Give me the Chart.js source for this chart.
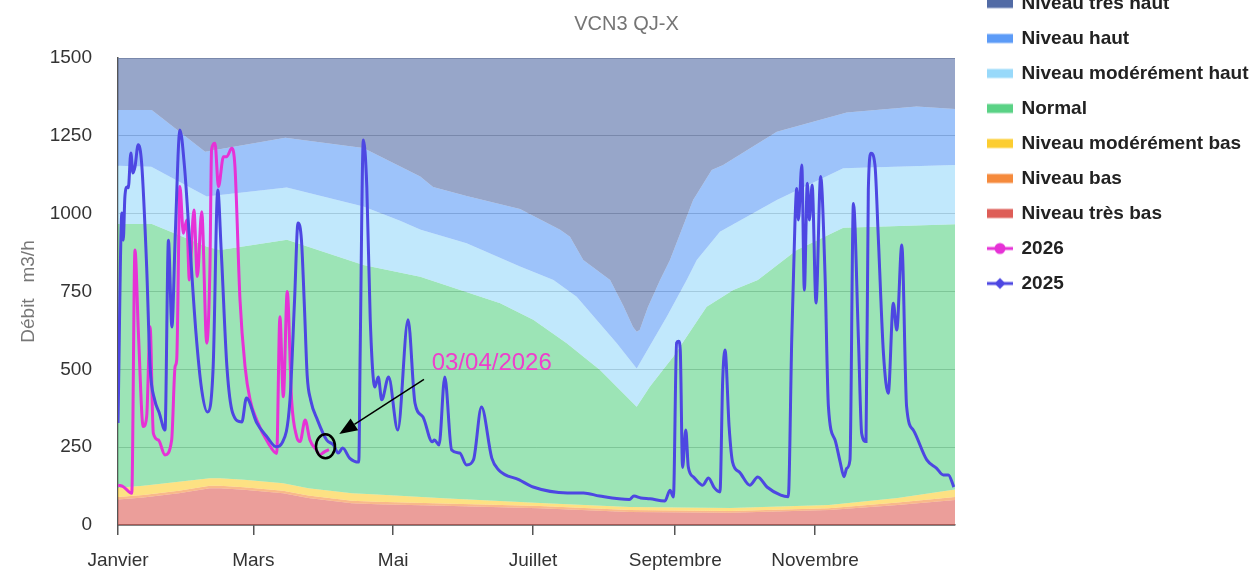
<!DOCTYPE html>
<html><head><meta charset="utf-8">
<script src="https://cdn.jsdelivr.net/npm/chart.js@4.4.1/dist/chart.umd.min.js"></script>
<style>
html,body{margin:0;padding:0;background:#fff;overflow:hidden}
#wrap{position:relative;width:1253px;height:574px;overflow:hidden;background:#fff}
#c{position:absolute;left:0;top:-22px;width:1253px;height:596px}
</style>
</head><body><div id="wrap"><canvas id="c" width="1253" height="596"></canvas></div>
<script>
// ---- axis ----
const monthTicks = [0, 59, 120, 181, 243, 304];
const monthLabels = ['Janvier', 'Mars', 'Mai', 'Juillet', 'Septembre', 'Novembre'];
const subtitleText = 'VCN3 QJ-X';
const yTitle = 'Débit   m3/h';
const noteLabel = '03/04/2026';

// ---- series 2025 (day of year, m3/h) ----
const days2025 = [0,1.7,2.3,3,4,4.5,5.6,6.5,7.4,8.8,10.3,12.5,14,16,18,20.5,22,23.5,25,27,29,31,34,36.5,39,41.5,43.5,45,47.5,50,54,56,60.5,65,69,71.5,75,77,78.5,80,81.3,82.5,84,87,91,94,96,98,101,105,105.6,107,108.5,110,112,113.5,115,118,122,126.5,129.5,133,137,138,140,142.5,145.5,149,152,155,158.5,163,166,175,181,196,203,210,223,225,228,232,238.5,240.7,242.2,243.6,244.5,245.2,246.2,247.6,248.7,251,255,257.5,260,262.5,263.7,264.7,266.5,268,271,275.5,279,283,289,292.3,293.8,295.2,296,296.7,298.2,299.3,300.6,301.5,302.7,304.4,306.4,308.3,309.8,312.7,314.9,316.6,317.8,319.2,320.7,322.9,324.3,326.2,327.2,328.4,330.1,331.6,333.8,335.9,338.1,339.6,341.8,343.9,346.8,352.7,357,359.9,362.1,364.5];
const flow2025 = [328,1002,915,1054,1086,1083,1195,1131,1150,1221,1163,829,508,402,360,305,915,636,938,1269,1150,938,617,434,363,508,1076,883,508,360,331,408,328,283,251,263,402,723,970,915,700,480,402,337,273,257,231,247,215,202,552,1237,1086,659,443,475,402,475,305,659,392,347,267,273,257,475,241,231,193,209,379,215,177,145,122,103,103,93,82,93,87,84,77,112,90,585,590,560,185,305,186,154,128,151,120,106,466,562,315,202,170,128,154,122,96,91,594,970,1081,980,1156,755,1098,980,1092,713,1119,809,380,273,203,155,182,209,1033,594,294,268,1076,1194,1156,915,551,423,712,626,899,380,305,209,182,161,161,122];

// ---- series 2026 ----
const days2026 = [0,2.3,6,7.4,8.9,11,12.5,14,15.4,17.6,20.5,23.4,24.9,25.6,27,28.5,30,31.1,33.1,34.6,36.5,38.7,40.1,40.8,42.3,43.8,46,47.4,49.6,51,53.2,55.4,57.6,60.5,65.6,69.2,70.6,72.1,73.8,75.7,77.9,79.4,81.6,83.7,86.5,88,90,92];
const flow2026 = [128,123,102,883,617,316,348,637,295,273,225,273,509,530,1087,937,980,787,1012,798,1006,584,830,1205,1226,1087,1183,1183,1210,1151,723,509,402,337,262,230,669,412,750,402,284,268,337,273,241,225,235,242];

// ---- band boundaries ----
const highTopDays = [0,14.7,38,73,107,131.8,137.4,152,175.3,192.8,197.1,202.9,214.6,220.2,224.6,226.2,227.5,231.1,236.4,240.7,250.8,258.9,263.9,287.3,317.8,348.3,365];
const highTopVals = [1333,1333,1199,1244,1211,1119,1086,1057,1015,948,926,851,787,707,636,621,626,700,787,851,1044,1140,1156,1263,1325,1344,1336];
const modHighTopDays = [0,14.5,38.7,73.6,107,123,132,152,175.3,189.9,200,217.5,226.2,239.3,248,252.4,262.5,287.3,316.3,365];
const modHighTopVals = [1154,1151,1055,1084,1023,977,948,905,830,787,733,584,503,669,787,851,942,1044,1146,1156];
const normalTopDays = [0,14.8,38.8,44.5,73.7,107,131.8,166.7,181.1,195.7,210.2,226.2,231.9,242.2,256.7,268.3,279,296,316.3,365];
const normalTopVals = [967,967,894,883,916,835,797,712,659,584,498,380,444,541,701,755,787,883,955,966];
const lowDays = [0,11,26.5,40,44.5,55,72,83,102,113,142,184,223,267,310,340,365];
const modLowTopVals = [120,126,139,150,150,145,134,118,102,98,86,71,58,55,64,87,114];
const lowTopVals = [90,96,110,126,126,121,110,95,78,75,69,61,48,45,54,72,90];
const veryLowTopVals = [82,88,102,118,118,113,102,87,70,67,62,54,42,39,48,64,80];

const bandNames = ['Niveau très haut','Niveau haut','Niveau modérément haut','Normal','Niveau modérément bas','Niveau bas','Niveau très bas'];
const bandColors = ['#526ba5','#5c9bf7','#98d9fa','#5ad285','#fccd30','#f58a3c','#de5d57'];
const color2026 = '#e632d6';
const color2025 = '#4d47e2';

function pts(d, v) { return d.map((x, i) => ({x: x, y: v[i]})); }
function rgba(hex, a) {
  const n = parseInt(hex.slice(1), 16);
  return 'rgba(' + (n >> 16 & 255) + ',' + (n >> 8 & 255) + ',' + (n & 255) + ',' + a + ')';
}

const bandData = [
  pts(highTopDays, highTopVals),
  pts(highTopDays, highTopVals),
  pts(modHighTopDays, modHighTopVals),
  pts(normalTopDays, normalTopVals),
  pts(lowDays, modLowTopVals),
  pts(lowDays, lowTopVals),
  pts(lowDays, veryLowTopVals)
];
const bandFill = ['end', '+1', '+1', '+1', '+1', '+1', 'origin'];

const datasets = bandNames.map((name, i) => ({
  label: name,
  data: bandData[i],
  fill: bandFill[i],
  backgroundColor: rgba(bandColors[i], 0.6),
  borderColor: 'rgba(0,0,0,0)',
  borderWidth: 0,
  pointRadius: 0,
  tension: 0,
  order: 2
}));
datasets.push({
  label: '2026', data: pts(days2026, flow2026), borderColor: color2026, backgroundColor: color2026,
  borderWidth: 3, pointRadius: 0, fill: false, cubicInterpolationMode: 'monotone', order: 1
});
datasets.push({
  label: '2025', data: pts(days2025, flow2025), borderColor: color2025, backgroundColor: color2025,
  borderWidth: 3, pointRadius: 0, fill: false, cubicInterpolationMode: 'monotone', order: 0
});
const IDX_2026 = 7;

function makeMarker(i) {
  const c = document.createElement('canvas');
  c.width = 43; c.height = 20;
  const g = c.getContext('2d');
  if (i < 7) {
    g.fillStyle = bandColors[i];
    g.fillRect(17, 5.5, 26, 9);
  } else {
    const col = i === 7 ? color2026 : color2025;
    g.strokeStyle = col; g.fillStyle = col; g.lineWidth = 3;
    g.beginPath(); g.moveTo(17, 10); g.lineTo(43, 10); g.stroke();
    g.beginPath();
    if (i === 7) { g.arc(30, 10, 5.5, 0, Math.PI * 2); }
    else { g.moveTo(30, 4.5); g.lineTo(35.5, 10); g.lineTo(30, 15.5); g.lineTo(24.5, 10); g.closePath(); }
    g.fill();
  }
  return c;
}
const markers = datasets.map((d, i) => makeMarker(i));

const notePlugin = {
  id: 'lastPointNote',
  afterDatasetsDraw(chart) {
    const meta = chart.getDatasetMeta(IDX_2026);
    const p = meta.data[meta.data.length - 1];
    if (!p) return;
    const ctx = chart.ctx;
    ctx.save();
    ctx.strokeStyle = '#000';
    ctx.lineWidth = 2.5;
    ctx.beginPath();
    ctx.ellipse(p.x - 3.5, p.y - 3.3, 9.5, 12, 0, 0, Math.PI * 2);
    ctx.stroke();
    const tipX = p.x + 10.3, tipY = p.y - 15.6, tailX = p.x + 95, tailY = p.y - 70.3;
    const ang = Math.atan2(tipY - tailY, tipX - tailX);
    const hl = 18, hw = 7;
    const bx = tipX - hl * Math.cos(ang), by = tipY - hl * Math.sin(ang);
    ctx.lineWidth = 1.5;
    ctx.beginPath(); ctx.moveTo(tailX, tailY); ctx.lineTo(bx, by); ctx.stroke();
    ctx.fillStyle = '#000';
    ctx.beginPath();
    ctx.moveTo(tipX, tipY);
    ctx.lineTo(bx + hw * Math.sin(ang), by - hw * Math.cos(ang));
    ctx.lineTo(bx - hw * Math.sin(ang), by + hw * Math.cos(ang));
    ctx.closePath(); ctx.fill();
    ctx.font = '24px "Liberation Sans", Arial, sans-serif';
    ctx.fillStyle = '#ee3fcc';
    ctx.textAlign = 'left';
    ctx.textBaseline = 'middle';
    ctx.fillText(noteLabel, p.x + 102.7, p.y - 85.9);
    ctx.restore();
  }
};

Chart.defaults.font.family = '"Liberation Sans", Arial, sans-serif';

new Chart(document.getElementById('c'), {
  type: 'line',
  data: { datasets: datasets },
  plugins: [notePlugin],
  options: {
    responsive: false,
    animation: false,
    devicePixelRatio: 1,
    parsing: true,
    layout: { padding: 0 },
    plugins: {
      title: { display: false },
      subtitle: {
        display: true, text: subtitleText, color: '#757575',
        font: { size: 20, weight: 'normal', lineHeight: 1.2 },
        padding: { top: 34, bottom: 22 }
      },
      legend: {
        position: 'right', align: 'start', maxWidth: 298,
        labels: {
          usePointStyle: true, pointStyleWidth: 41, padding: 16,
          color: '#222', font: { size: 19, weight: 'bold' },
          generateLabels: () => datasets.map((d, i) => ({
            text: d.label, pointStyle: markers[i], fillStyle: bandColors[i] || d.borderColor,
            strokeStyle: 'rgba(0,0,0,0)', lineWidth: 0, hidden: false, datasetIndex: i, fontColor: '#222'
          }))
        }
      },
      tooltip: { enabled: false }
    },
    scales: {
      x: {
        type: 'linear', min: 0, max: 365,
        afterBuildTicks: (s) => { s.ticks = monthTicks.map(v => ({ value: v })); },
        afterFit: (s) => { s.height = 49; },
        ticks: {
          autoSkip: false, maxRotation: 0, color: '#333', font: { size: 19 }, padding: 14,
          callback: (v, i) => monthLabels[i]
        },
        grid: { drawOnChartArea: false, drawTicks: true, tickLength: 10, color: '#555', lineWidth: 1.5 },
        border: { display: true, color: '#555', width: 1.5 }
      },
      y: {
        min: 0, max: 1500,
        afterFit: (s) => { s.width = 118; },
        ticks: { stepSize: 250, color: '#333', font: { size: 19 }, padding: 26, callback: (v) => String(v) },
        grid: { color: 'rgba(0,0,0,0.3)', lineWidth: 1, drawTicks: false },
        border: { display: true, color: '#555', width: 1.5 },
        title: { display: true, text: yTitle, color: '#777', font: { size: 19, lineHeight: 1.2 }, padding: { top: 17, bottom: 0 } }
      }
    }
  }
});
</script>
</body></html>
